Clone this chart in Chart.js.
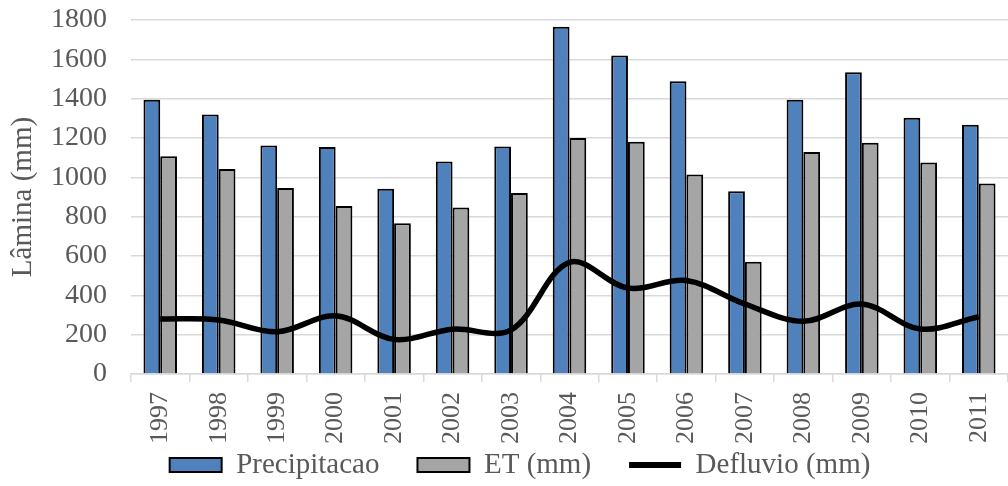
<!DOCTYPE html>
<html>
<head>
<meta charset="utf-8">
<script src="https://cdn.jsdelivr.net/npm/chart.js@4/dist/chart.umd.min.js"></script>
<style>
  html, body { margin: 0; padding: 0; background: #fff; }
  #wrap { width: 1008px; height: 486px; }
</style>
</head>
<body>
<div id="wrap"><canvas id="chart" width="1008" height="486"></canvas></div>
<script>
// values (mm)
const years = ['1997', '1998', '1999', '2000', '2001', '2002', '2003', '2004',
  '2005', '2006', '2007', '2008', '2009', '2010', '2011'];
const precipitacao = [1395, 1320, 1162, 1154, 942, 1080, 1157, 1766, 1620, 1488, 929, 1395, 1534, 1303, 1268];
const et = [1107, 1042, 946, 854, 766, 847, 920, 1200, 1181, 1015, 571, 1129, 1176, 1076, 969];
const defluvio = [280, 275, 215, 296, 176, 228, 224, 568, 437, 475, 356, 268, 356, 229, 291];
const yTicks = { min: 0, max: 1800, step: 200 };

const SERIF = "'Liberation Serif', 'Times New Roman', serif";
const GREY_TEXT = '#595959';
const GRID = '#d9d9d9';

// legend keeps wide gaps between items but only a thin strip in height
const LEGEND_H = 42;
const LEGEND_SHIFT_Y = 31.5;
const LEGEND_SHIFT_X = 13;
const tightLegend = {
  id: 'tightLegend',
  beforeLayout(chart) {
    const lg = chart.legend;
    if (!lg || lg.__tight) return;
    lg.__tight = true;
    const fit = lg.fit, draw = lg.draw;
    lg.fit = function () { fit.call(this); this.height = LEGEND_H; };
    lg.draw = function () {
      const t = this.top, l = this.left, r = this.right;
      this.top = t - LEGEND_SHIFT_Y;
      this.left = l + LEGEND_SHIFT_X;
      this.right = r + LEGEND_SHIFT_X;
      draw.call(this);
      this.top = t; this.left = l; this.right = r;
    };
  }
};

new Chart(document.getElementById('chart'), {
  data: {
    labels: years,
    datasets: [
      {
        type: 'bar', label: 'Precipitacao', data: precipitacao, order: 1,
        backgroundColor: '#4f81bd', borderColor: '#000', borderWidth: 2,
        categoryPercentage: 0.573, barPercentage: 1.0
      },
      {
        type: 'bar', label: 'ET (mm)', data: et, order: 1,
        backgroundColor: '#a5a5a5', borderColor: '#000', borderWidth: 2,
        categoryPercentage: 0.573, barPercentage: 1.0
      },
      {
        type: 'line', label: 'Defluvio (mm)', data: defluvio, order: 0,
        borderColor: '#000', backgroundColor: '#000', borderWidth: 5.5,
        pointRadius: 0, tension: 0.35, fill: false
      }
    ]
  },
  options: {
    responsive: false,
    animation: false,
    layout: { padding: { left: 6, right: 0, top: 0, bottom: 0 } },
    plugins: {
      tooltip: { enabled: false },
      legend: {
        position: 'bottom',
        labels: {
          usePointStyle: true,
          pointStyleWidth: 52,
          boxHeight: 14,
          padding: 38,
          color: GREY_TEXT,
          font: { family: SERIF, size: 29 },
          generateLabels: chart => chart.data.datasets.map((ds, i) => ({
            text: ds.label,
            fillStyle: ds.backgroundColor,
            strokeStyle: '#000',
            lineWidth: ds.type === 'line' ? 6 : 2,
            pointStyle: ds.type === 'line' ? 'line' : 'rect',
            hidden: !chart.isDatasetVisible(i),
            datasetIndex: i,
            fontColor: GREY_TEXT
          }))
        }
      }
    },
    scales: {
      x: {
        grid: { offset: true, drawOnChartArea: false, drawTicks: true, tickLength: 8, color: GRID, lineWidth: 1.5 },
        border: { display: true, color: GRID, width: 1.5 },
        ticks: {
          color: GREY_TEXT, font: { family: SERIF, size: 26 },
          minRotation: 90, maxRotation: 90, autoSkip: false, padding: 10
        },
        afterFit(s) { s.height = 70; s.paddingRight = 0; }
      },
      y: {
        min: yTicks.min, max: yTicks.max,
        grid: { color: GRID, lineWidth: 1.5, drawTicks: false },
        border: { display: false },
        ticks: {
          stepSize: yTicks.step, autoSkip: false, color: GREY_TEXT, padding: 24,
          font: { family: SERIF, size: 28, lineHeight: 1 },
          callback: v => String(v)
        },
        title: {
          display: true, text: 'Lâmina (mm)', color: GREY_TEXT,
          font: { family: SERIF, size: 29 }, padding: { top: 0, bottom: 6 }
        },
        afterFit(s) { s.width = 125; s.paddingTop = 20; }
      }
    }
  },
  plugins: [tightLegend]
});
</script>
</body>
</html>
